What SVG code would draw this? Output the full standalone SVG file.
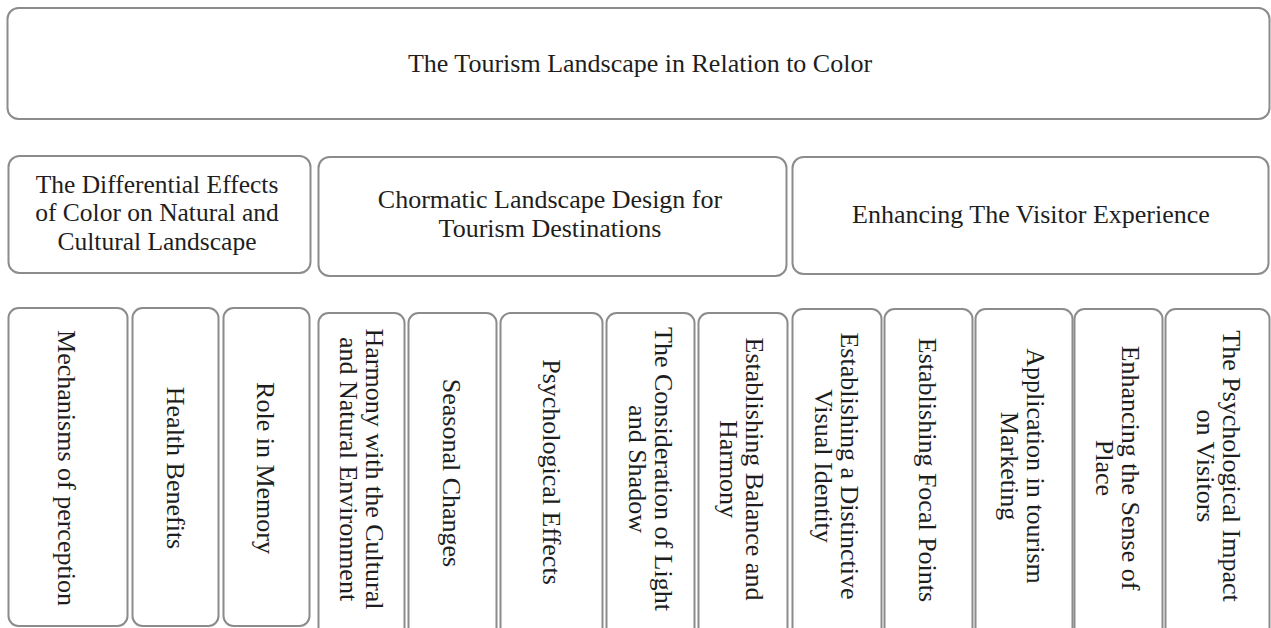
<svg xmlns="http://www.w3.org/2000/svg" width="1271" height="628" viewBox="0 0 1271 628">
<style>
.box{fill:#fff;stroke:#8c8c8c;stroke-width:2}
.t{font-family:"Liberation Serif","Times New Roman",serif;font-size:26px;fill:#1e1e1e;text-anchor:middle}
</style>
<rect width="1271" height="628" fill="#fff"/>
<g id="root">
<rect class="box" x="7.5" y="8" width="1262" height="111" rx="11"/>
<text class="t" x="640" y="72">The Tourism Landscape in Relation to Color</text>
</g>
<g id="cat1">
<rect class="box" x="8.5" y="156" width="302" height="117" rx="11"/>
<text class="t" style="font-size:25.5px"><tspan x="157" y="192.5">The Differential Effects</tspan><tspan x="157" y="221">of Color on Natural and</tspan><tspan x="157" y="249.5">Cultural Landscape</tspan></text>
</g>
<g id="cat2">
<rect class="box" x="318.5" y="157" width="468" height="119" rx="11"/>
<text class="t"><tspan x="550" y="208">Chormatic Landscape Design for</tspan><tspan x="550" y="237">Tourism Destinations</tspan></text>
</g>
<g id="cat3">
<rect class="box" x="792.5" y="157" width="476" height="117" rx="11"/>
<text class="t" x="1031" y="223">Enhancing The Visitor Experience</text>
</g>
<g id="n1">
<rect class="box" x="8.5" y="308" width="119" height="318" rx="10"/>
<text class="t" transform="translate(67,468) rotate(90)" y="9">Mechanisms of perception</text>
</g>
<g id="n2">
<rect class="box" x="132.5" y="308" width="86" height="318" rx="10"/>
<text class="t" transform="translate(176,468) rotate(90)" y="9">Health Benefits</text>
</g>
<g id="n3">
<rect class="box" x="223.5" y="308" width="86" height="318" rx="10"/>
<text class="t" transform="translate(266,468) rotate(90)" y="9">Role in Memory</text>
</g>
<g id="n4">
<rect class="box" x="318.5" y="313" width="86" height="330" rx="10"/>
<text class="t" transform="translate(362,469) rotate(90)"><tspan x="0" y="-4">Harmony with the Cultural</tspan><tspan x="0" y="22">and Natural Environment</tspan></text>
</g>
<g id="n5">
<rect class="box" x="408.5" y="313" width="88" height="330" rx="10"/>
<text class="t" transform="translate(452,473) rotate(90)" y="9">Seasonal Changes</text>
</g>
<g id="n6">
<rect class="box" x="500.5" y="313" width="102" height="330" rx="10"/>
<text class="t" transform="translate(552,472) rotate(90)" y="9">Psychological Effects</text>
</g>
<g id="n7">
<rect class="box" x="606.5" y="313" width="88" height="330" rx="10"/>
<text class="t" transform="translate(651,469) rotate(90)"><tspan x="0" y="-4">The Consideration of Light</tspan><tspan x="0" y="22">and Shadow</tspan></text>
</g>
<g id="n8">
<rect class="box" x="698.5" y="313" width="89" height="330" rx="10"/>
<text class="t" transform="translate(742,469) rotate(90)"><tspan x="0" y="-4">Establishing Balance and</tspan><tspan x="0" y="22">Harmony</tspan></text>
</g>
<g id="n9">
<rect class="box" x="792.5" y="309" width="89" height="330" rx="10"/>
<text class="t" transform="translate(837,466) rotate(90)"><tspan x="0" y="-4">Establishing a Distinctive</tspan><tspan x="0" y="22">Visual Identity</tspan></text>
</g>
<g id="n10">
<rect class="box" x="884.5" y="309" width="88" height="330" rx="10"/>
<text class="t" transform="translate(928,470) rotate(90)" y="9">Establishing Focal Points</text>
</g>
<g id="n11">
<rect class="box" x="975.5" y="309" width="97" height="330" rx="10"/>
<text class="t" transform="translate(1023,466) rotate(90)"><tspan x="0" y="-4">Application in tourism</tspan><tspan x="0" y="22">Marketing</tspan></text>
</g>
<g id="n12">
<rect class="box" x="1074.5" y="309" width="88" height="330" rx="10"/>
<text class="t" transform="translate(1118,468) rotate(90)"><tspan x="0" y="-4">Enhancing the Sense of</tspan><tspan x="0" y="22">Place</tspan></text>
</g>
<g id="n13">
<rect class="box" x="1165.5" y="309" width="104" height="330" rx="10"/>
<text class="t" transform="translate(1219,466) rotate(90)"><tspan x="0" y="-4">The Psychological Impact</tspan><tspan x="0" y="22">on Visitors</tspan></text>
</g>
</svg>
